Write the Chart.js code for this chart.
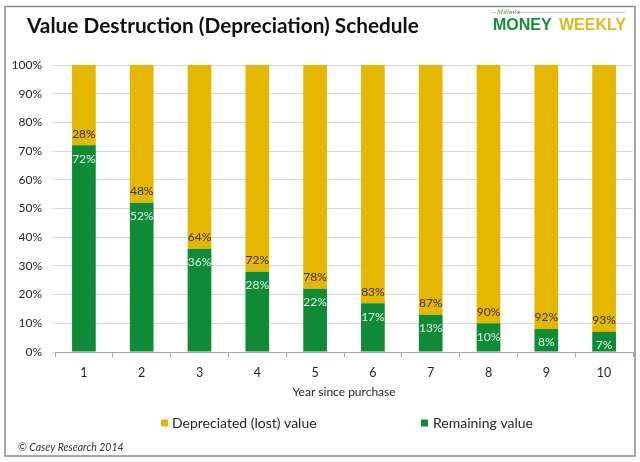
<!DOCTYPE html>
<html>
<head>
<meta charset="utf-8">
<script src="https://cdn.jsdelivr.net/npm/chart.js@4"></script>
<style>
  html, body { margin: 0; padding: 0; background: #fff; }
  #wrap { width: 640px; height: 462px; position: relative; }
</style>
</head>
<body>
<div id="wrap"><canvas id="c" width="640" height="462"></canvas></div>
<script>
const years = ['1','2','3','4','5','6','7','8','9','10'];
const remainingValue = [72, 52, 36, 28, 22, 17, 13, 10, 8, 7];
const depreciatedValue = [28, 48, 64, 72, 78, 83, 87, 90, 92, 93];
const yTicks = [0, 10, 20, 30, 40, 50, 60, 70, 80, 90, 100];
const titleText = 'Value Destruction (Depreciation) Schedule';
const xAxisTitle = 'Year since purchase';
const footerText = '\u00A9 Casey Research 2014';

const YELLOW = '#E4B700';
const GREEN = '#0F8A36';
const FONT = 'Lato, "Open Sans", sans-serif';

const decorPlugin = {
  id: 'decor',
  beforeDraw(chart) {
    const ctx = chart.ctx;
    ctx.save();
    ctx.fillStyle = '#fff';
    ctx.fillRect(0, 0, chart.width, chart.height);
    ctx.restore();
  },
  afterDraw(chart) {
    const ctx = chart.ctx;
    ctx.save();
    // frame
    ctx.strokeStyle = '#8a8a8a';
    ctx.lineWidth = 1.5;
    ctx.strokeRect(5, 6.5, 630, 449.5);
    // title
    ctx.fillStyle = '#111';
    ctx.font = 'bold 20.8px ' + FONT;
    ctx.textBaseline = 'alphabetic';
    ctx.textAlign = 'left';
    ctx.fillText(titleText, 27, 33);
    // logo
    ctx.strokeStyle = '#c8c8c8';
    ctx.lineWidth = 1;
    ctx.beginPath(); ctx.moveTo(491, 12.5); ctx.lineTo(496, 12.5); ctx.stroke();
    ctx.beginPath(); ctx.moveTo(511, 12.5); ctx.lineTo(625, 12.5); ctx.stroke();
    ctx.fillStyle = '#3a7a4a';
    ctx.font = 'italic 6px "DejaVu Serif", serif';
    ctx.fillText("Miller's", 497, 14);
    ctx.font = 'bold 16px "Liberation Sans", Arial, sans-serif';
    ctx.fillStyle = '#1A8A3C';
    ctx.fillText('MONEY', 493, 30);
    ctx.fillStyle = '#E0B820';
    ctx.fillText('WEEKLY', 559, 30);
    // footer
    ctx.fillStyle = '#333';
    ctx.font = 'italic 10.5px ' + FONT;
    ctx.fillText(footerText, 18, 451);
    // legend (order: depreciated, remaining)
    const ds = chart.data.datasets;
    const items = [
      {label: ds[1].label, color: ds[1].backgroundColor, bx: 161, tx: 172},
      {label: ds[0].label, color: ds[0].backgroundColor, bx: 421, tx: 433}
    ];
    ctx.font = '14px ' + FONT;
    ctx.textBaseline = 'middle';
    items.forEach(it => {
      ctx.fillStyle = it.color;
      ctx.fillRect(it.bx, 419.5, 7, 7);
      ctx.fillStyle = '#262626';
      ctx.fillText(it.label, it.tx, 423);
    });
    ctx.restore();
  },
  afterDatasetsDraw(chart) {
    const ctx = chart.ctx;
    ctx.save();
    ctx.font = '12px ' + FONT;
    ctx.textAlign = 'center';
    ctx.textBaseline = 'middle';
    const mRem = chart.getDatasetMeta(0);
    const mDep = chart.getDatasetMeta(1);
    mRem.data.forEach((el, i) => {
      ctx.fillStyle = '#E2F4E4';
      ctx.fillText(remainingValue[i] + '%', el.x, el.y + 13.5);
    });
    mDep.data.forEach((el, i) => {
      ctx.fillStyle = '#3A3010';
      ctx.fillText(depreciatedValue[i] + '%', el.x, el.base - 11.5);
    });
    ctx.restore();
  }
};

new Chart(document.getElementById('c'), {
  type: 'bar',
  data: {
    labels: years,
    datasets: [
      { label: 'Remaining value', data: remainingValue, backgroundColor: GREEN,
        barPercentage: 0.41, categoryPercentage: 1 },
      { label: 'Depreciated (lost) value', data: depreciatedValue, backgroundColor: YELLOW,
        barPercentage: 0.41, categoryPercentage: 1 }
    ]
  },
  options: {
    responsive: false,
    animation: false,
    devicePixelRatio: 1,
    layout: { padding: { left: 0, right: 7, top: 65, bottom: 60 } },
    plugins: {
      legend: { display: false },
      tooltip: { enabled: false },
      title: { display: false }
    },
    scales: {
      x: {
        stacked: true,
        grid: { display: true, drawOnChartArea: false, drawTicks: true, tickLength: 5, color: '#a6a6a6', offset: true },
        border: { display: true, color: '#a6a6a6', width: 1 },
        ticks: { color: '#262626', font: { family: FONT, size: 12.5 }, padding: 8, maxRotation: 0 },
        title: { display: true, text: xAxisTitle, color: '#262626', font: { family: FONT, size: 12 }, padding: { top: 0, bottom: 3 } },
        afterFit(scale) { scale.height = 50; }
      },
      y: {
        stacked: true,
        min: 0, max: 100,
        afterBuildTicks(scale) { scale.ticks = yTicks.map(v => ({ value: v })); },
        grid: { color: '#d9d9d9', lineWidth: 1, drawTicks: true, tickLength: 3 },
        border: { display: false },
        ticks: { color: '#262626', font: { family: FONT, size: 12 }, padding: 10, callback: v => v + '%' },
        afterFit(scale) { scale.width = 55; }
      }
    }
  },
  plugins: [decorPlugin]
});
</script>
</body>
</html>
